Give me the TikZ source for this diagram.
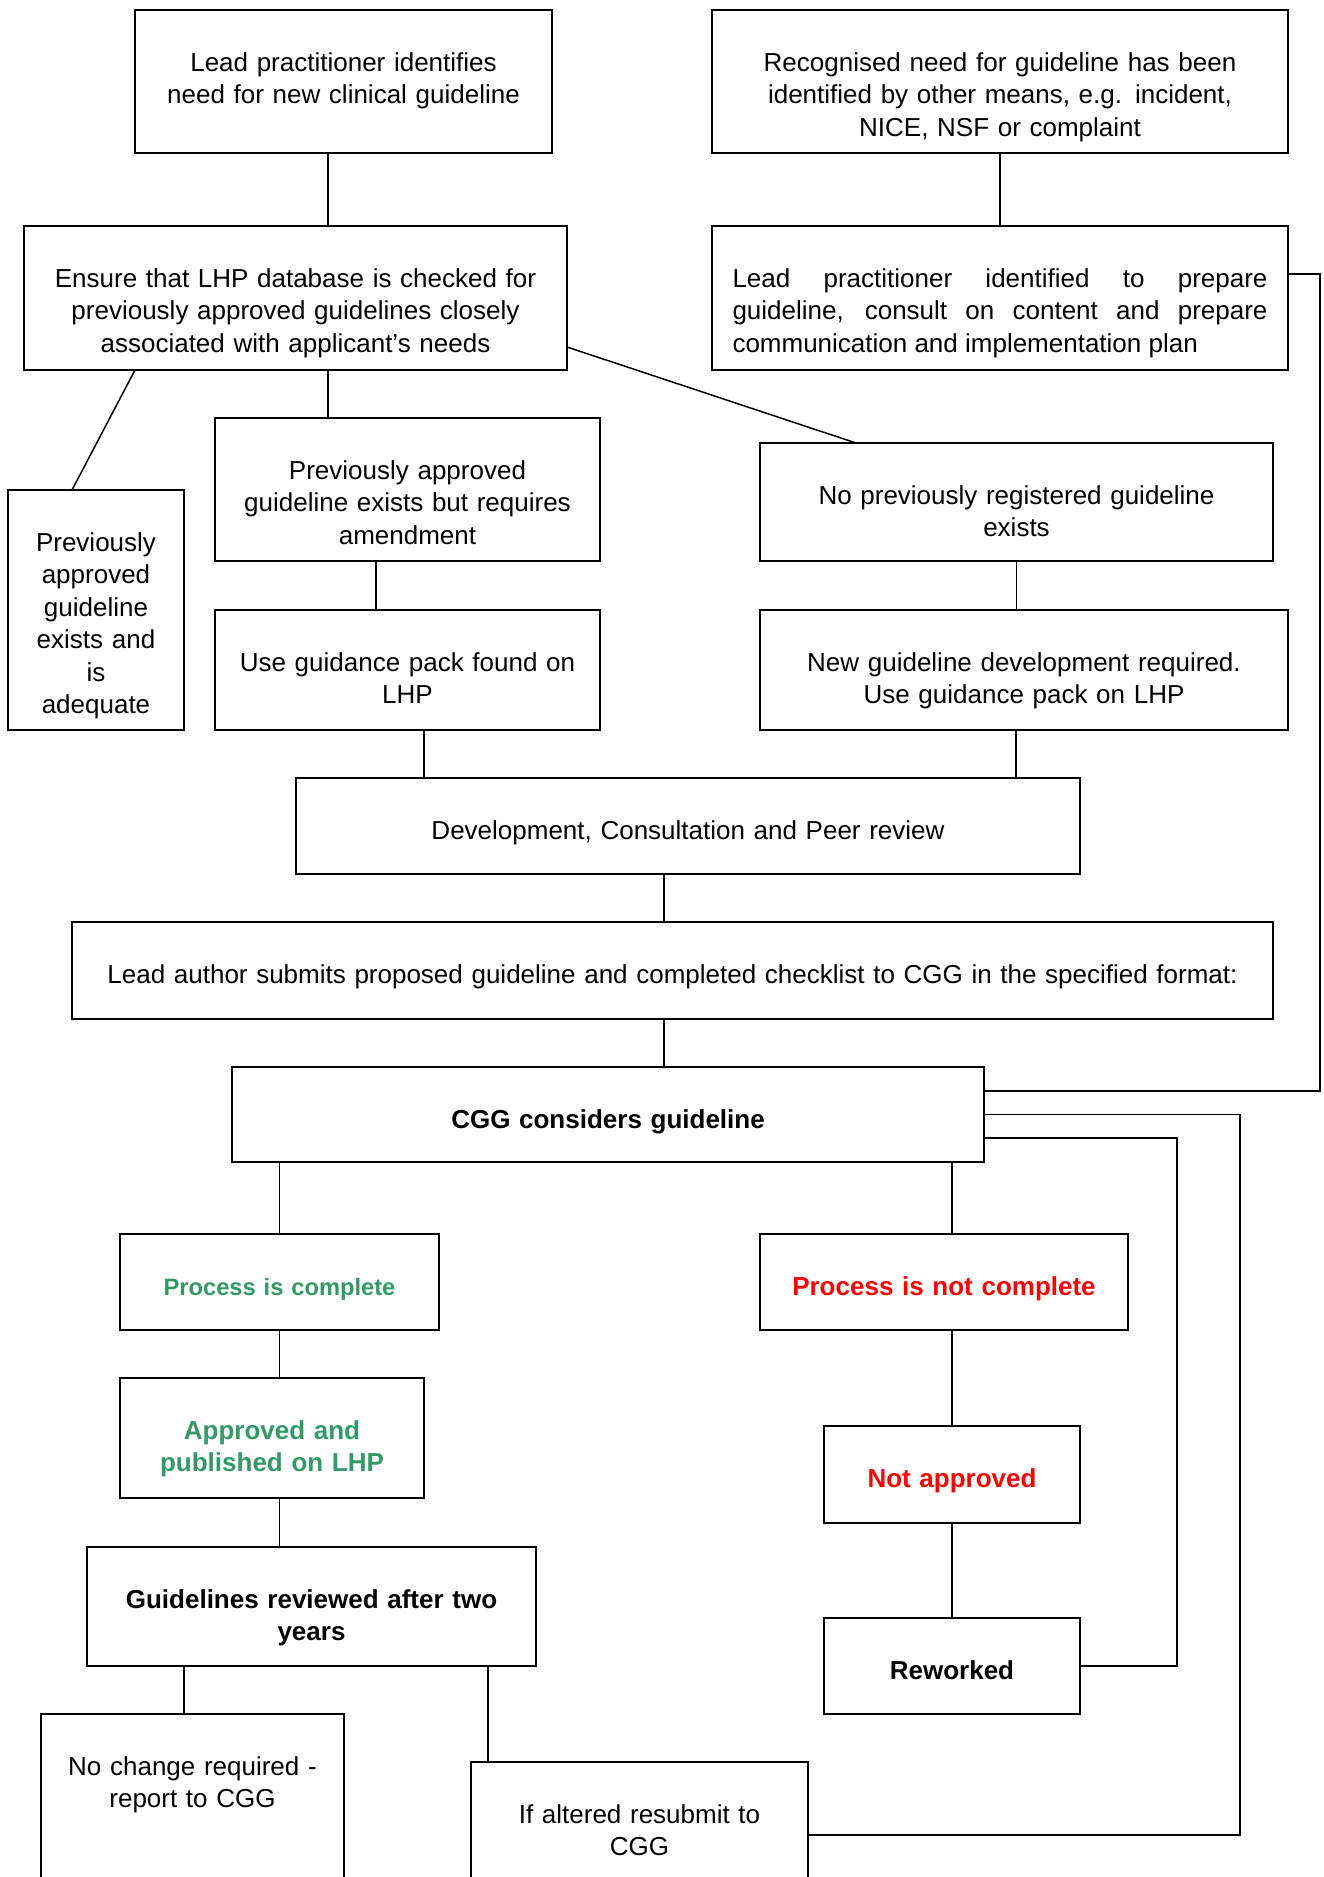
\documentclass[tikz,border=0pt]{standalone}
\usepackage{fontspec}
\setmainfont{Liberation Sans}
\usetikzlibrary{positioning}
\definecolor{okgreen}{RGB}{51,153,102}
\definecolor{nogood}{RGB}{255,0,0}
\begin{document}
\begin{tikzpicture}[x=1pt,y=-1pt,
    box/.style={draw, line width=1.8pt, inner sep=0pt, outer sep=0pt, align=center, text height=61pt, font=\fontsize{26}{32.5}\selectfont},
    conn/.style={line width=1.5pt},
    good/.style={text=okgreen, font=\fontsize{26}{32.5}\selectfont\bfseries},
    bad/.style={text=nogood, font=\fontsize{26}{32.5}\selectfont\bfseries},
    strong/.style={font=\fontsize{26}{32.5}\selectfont\bfseries}]
        \useasboundingbox (0,0) rectangle (1324,1877);
        % Nodes
        \node [box,text width=417pt,text depth=82pt] (lead) at (343.5,81.5) {Lead practitioner identifies\\need for new clinical guideline};
        \node [box,right=160pt of lead,text width=576pt,text depth=82pt] (recog) {Recognised need for guideline has been\\identified by other means, e.g. incident,\\NICE, NSF or complaint};
        \node [box,below=73pt of lead,xshift=-48pt,text width=543pt,text depth=83pt] (check) {Ensure that LHP database is checked for\\previously approved guidelines closely\\associated with applicant’s needs};
        \node [box,below=73pt of recog,text width=535pt,inner xsep=20.5pt,align=justify,text depth=83pt] (plan) {Lead practitioner identified to prepare\linebreak guideline, consult on content and prepare\linebreak communication and implementation plan};
        \node [box,below=48pt of check,xshift=112pt,text width=385pt,text depth=82pt] (amend) {Previously approved\\guideline exists but requires\\amendment};
        \node [box,below=120pt of check,xshift=-199.5pt,text width=176pt,text depth=179pt] (adequate) {Previously\\approved\\guideline\\exists and\\is\\adequate};
        \node [box,right=160pt of amend,yshift=-12.5pt,text width=513pt,text depth=57pt] (noreg) {No previously registered guideline\\exists};
        \node [box,below=49pt of amend,text width=385pt,text depth=59pt] (guidepack) {Use guidance pack found on\\LHP};
        \node [box,right=160pt of guidepack,text width=528pt,text depth=59pt] (newdev) {New guideline development required.\\Use guidance pack on LHP};
        \node [box,below=48pt of guidepack,xshift=280.5pt,text width=784pt,text depth=35pt] (devel) {Development, Consultation and Peer review};
        \node [box,below=48pt of devel,xshift=-15.5pt,text width=1201pt,text depth=36pt] (submit) {Lead author submits proposed guideline and completed checklist to CGG in the specified format:};
        \node [box,strong,below=48pt of submit,xshift=-64.5pt,text width=752pt,text depth=34pt] (cgg) {CGG considers guideline};
        \node [box,good,font=\fontsize{23.7}{32.5}\selectfont\bfseries,below=72pt of cgg,xshift=-328.5pt,text width=319pt,text depth=35pt] (complete) {Process is complete};
        \node [box,bad,right=321pt of complete,text width=368pt,text depth=35pt] (notcomplete) {Process is not complete};
        \node [box,good,below=48pt of complete,xshift=-7.5pt,text width=304pt,text depth=59pt] (published) {Approved and\\published on LHP};
        \node [box,bad,below=96pt of notcomplete,xshift=8pt,text width=256pt,text depth=36pt] (notapproved) {Not approved};
        \node [box,strong,below=49pt of published,xshift=39.5pt,text width=449pt,text depth=58pt] (reviewed) {Guidelines reviewed after two\\years};
        \node [box,strong,below=95pt of notapproved,text width=256pt,text depth=35pt] (reworked) {Reworked};
        \node [box,below=48pt of reviewed,xshift=-119pt,text width=303pt,text depth=250pt] (nochange) {No change required -\\report to CGG};
        \node [box,below=96pt of reviewed,xshift=328pt,text width=337pt,text depth=200pt] (resubmit) {If altered resubmit to\\CGG};

        % Arrows
        \draw[conn] ([xshift=-15.5pt]lead.south) -- ([xshift=-15.5pt]lead.south |- check.north);
        \draw[conn] (recog) -- (plan);
        \draw[conn] ([xshift=111pt]check.south west) -- ([xshift=64pt]adequate.north west);
        \draw[conn] ([xshift=32.5pt]check.south) -- ([xshift=32.5pt]check.south |- amend.north);
        \draw[conn] ([yshift=23pt]check.south east) -- ([xshift=-160.5pt]noreg.north);
        \draw[conn] ([xshift=-31.5pt]amend.south) -- ([xshift=-31.5pt]amend.south |- guidepack.north);
        \draw[conn] (noreg.south) -- (noreg.south |- newdev.north);
        \draw[conn] ([xshift=16.5pt]guidepack.south) -- ([xshift=16.5pt]guidepack.south |- devel.north);
        \draw[conn] ([xshift=-8pt]newdev.south) -- ([xshift=-8pt]newdev.south |- devel.north);
        \draw[conn] ([xshift=-24pt]devel.south) -- ([xshift=-24pt]devel.south |- submit.north);
        \draw[conn] ([xshift=-8.5pt]submit.south) -- ([xshift=-8.5pt]submit.south |- cgg.north);
        \draw[conn] ([yshift=24pt]plan.east) -- ++(32pt,0) |- ([yshift=23.5pt]cgg.east);
        \draw[conn] (cgg.east) -- ++(256pt,0) |- ([yshift=-73pt]resubmit.north east);
        \draw[conn] ([yshift=-23.5pt]cgg.east) -- ++(193pt,0) |- (reworked.east);
        \draw[conn] (complete.north |- cgg.south) -- (complete.north);
        \draw[conn] (notapproved.north |- cgg.south) -- (notapproved.north |- notcomplete.north);
        \draw[conn] (complete.south) -- (complete.south |- published.north);
        \draw[conn] (notapproved.north |- notcomplete.south) -- (notapproved.north);
        \draw[conn] ([xshift=7.5pt]published.south) -- ([xshift=7.5pt]published.south |- reviewed.north);
        \draw[conn] (notapproved) -- (reworked);
        \draw[conn] ([xshift=-8.5pt]nochange.north |- reviewed.south) -- ([xshift=-8.5pt]nochange.north);
        \draw[conn] ([xshift=17pt]resubmit.north west |- reviewed.south) -- ([xshift=17pt]resubmit.north west);
\end{tikzpicture}
\end{document}
